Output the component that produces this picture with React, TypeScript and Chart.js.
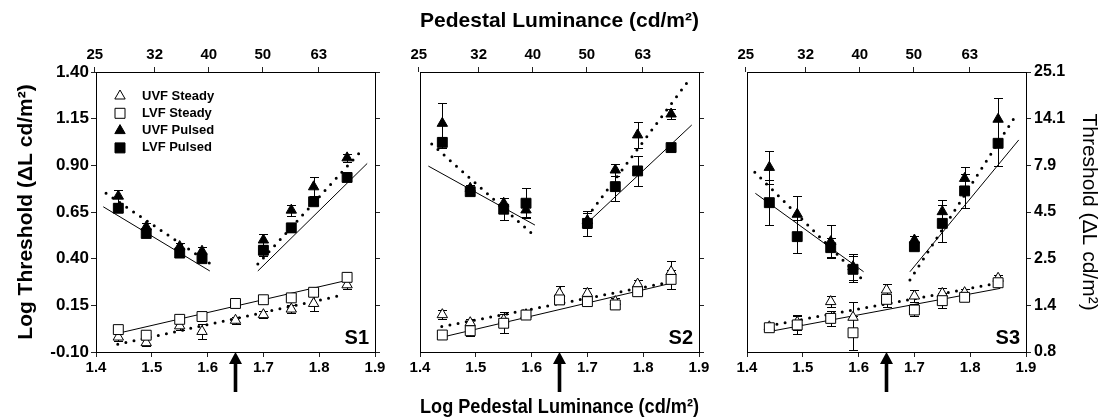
import React, { useEffect, useRef } from 'react';
import { Chart, registerables } from 'chart.js';

Chart.register(...registerables);

const FONT = "'Liberation Sans', Arial, Helvetica, sans-serif";

// ---------- axes ----------
const X_MIN = 1.4;
const X_MAX = 1.9;
const Y_MIN = -0.1;
const Y_MAX = 1.4;
const X_TICKS = [1.4, 1.5, 1.6, 1.7, 1.8, 1.9];
const TOP_TICK_LABELS = [25, 32, 40, 50, 63];
const Y_TICKS = [-0.1, 0.15, 0.4, 0.65, 0.9, 1.15, 1.4];
const ARROW_X = 1.65;

const TOP_TITLE = 'Pedestal Luminance (cd/m²)';
const BOTTOM_TITLE = 'Log Pedestal Luminance (cd/m²)';
const LEFT_TITLE = 'Log Threshold (ΔL cd/m²)';
const RIGHT_TITLE = 'Threshold (ΔL cd/m²)';

const SERIES_LABELS = ['UVF Steady', 'LVF Steady', 'UVF Pulsed', 'LVF Pulsed'];
const SUBJECTS = ['S1', 'S2', 'S3'];

const X_STEADY = [1.44, 1.49, 1.55, 1.59, 1.65, 1.7, 1.75, 1.79, 1.85];
const X_PULSED = [1.44, 1.49, 1.55, 1.59, 1.7, 1.75, 1.79, 1.85];

// ---------- S1 ----------
const S1_UVF_STEADY = [-0.02, -0.05, 0.04, 0.01, 0.07, 0.1, 0.13, 0.16, 0.26];
const S1_UVF_STEADY_ERR = [0.02, 0.02, 0.02, 0.04, 0.02, 0.02, 0.02, 0.04, 0.02];
const S1_LVF_STEADY = [0.02, -0.01, 0.075, 0.09, 0.16, 0.18, 0.19, 0.22, 0.3];
const S1_LVF_STEADY_ERR = [0.01, 0.01, 0.01, 0.01, 0.01, 0.01, 0.01, 0.01, 0.01];
const S1_UVF_PULSED = [0.735, 0.57, 0.465, 0.44, 0.5, 0.66, 0.785, 0.94];
const S1_UVF_PULSED_ERR = [0.035, 0.02, 0.02, 0.02, 0.03, 0.03, 0.05, 0.02];
const S1_LVF_PULSED = [0.67, 0.535, 0.43, 0.4, 0.445, 0.565, 0.705, 0.835];
const S1_LVF_PULSED_ERR = [0.02, 0.02, 0.02, 0.02, 0.03, 0.02, 0.02, 0.02];
const S1_FIT_UVF_STEADY = [[1.439, -0.059], [1.842, 0.205]];
const S1_FIT_LVF_STEADY = [[1.439, 0.0], [1.85, 0.284]];
const S1_FIT_UVF_PULSED_LOW = [[1.418, 0.75], [1.606, 0.371]];
const S1_FIT_LVF_PULSED_LOW = [[1.413, 0.678], [1.604, 0.334]];
const S1_FIT_UVF_PULSED_HIGH = [[1.69, 0.371], [1.878, 0.986]];
const S1_FIT_LVF_PULSED_HIGH = [[1.69, 0.334], [1.886, 0.91]];

// ---------- S2 ----------
const S2_UVF_STEADY = [0.1, 0.057, 0.072, 0.1, 0.214, 0.214, 0.17, 0.264, 0.33];
const S2_UVF_STEADY_ERR = [0.025, 0.02, 0.04, 0.02, 0.04, 0.03, 0.02, 0.02, 0.06];
const S2_LVF_STEADY = [-0.009, 0.014, 0.054, 0.098, 0.179, 0.17, 0.152, 0.223, 0.289];
const S2_LVF_STEADY_ERR = [0.015, 0.03, 0.05, 0.015, 0.02, 0.02, 0.02, 0.015, 0.05];
const S2_UVF_PULSED = [1.125, 0.777, 0.697, 0.661, 0.604, 0.875, 1.063, 1.175];
const S2_UVF_PULSED_ERR = [0.11, 0.02, 0.03, 0.04, 0.04, 0.03, 0.07, 0.025];
const S2_LVF_PULSED = [1.023, 0.759, 0.665, 0.697, 0.589, 0.786, 0.87, 0.995];
const S2_LVF_PULSED_ERR = [0.03, 0.02, 0.06, 0.08, 0.066, 0.076, 0.08, 0.02];
const S2_FIT_UVF_STEADY = [[1.439, 0.036], [1.842, 0.271]];
const S2_FIT_LVF_STEADY = [[1.439, -0.021], [1.854, 0.271]];
const S2_FIT_UVF_PULSED_LOW = [[1.421, 1.014], [1.606, 0.52]];
const S2_FIT_LVF_PULSED_LOW = [[1.415, 0.896], [1.606, 0.58]];
const S2_FIT_UVF_PULSED_HIGH = [[1.7, 0.625], [1.882, 1.357]];
const S2_FIT_LVF_PULSED_HIGH = [[1.703, 0.6], [1.887, 1.116]];

// ---------- S3 ----------
const S3_UVF_STEADY = [0.035, 0.06, 0.17, 0.086, 0.232, 0.2, 0.214, 0.218, 0.295];
const S3_UVF_STEADY_ERR = [0.015, 0.04, 0.03, 0.08, 0.03, 0.03, 0.03, 0.02, 0.02];
const S3_LVF_STEADY = [0.03, 0.045, 0.08, 0.003, 0.182, 0.125, 0.175, 0.193, 0.271];
const S3_LVF_STEADY_ERR = [0.015, 0.05, 0.04, 0.09, 0.04, 0.03, 0.04, 0.02, 0.02];
const S3_UVF_PULSED = [0.889, 0.638, 0.491, 0.357, 0.5, 0.652, 0.83, 1.147];
const S3_UVF_PULSED_ERR = [0.09, 0.1, 0.09, 0.07, 0.02, 0.06, 0.06, 0.115];
const S3_LVF_PULSED = [0.7, 0.518, 0.459, 0.343, 0.464, 0.589, 0.763, 1.018];
const S3_LVF_PULSED_ERR = [0.12, 0.09, 0.05, 0.07, 0.02, 0.1, 0.09, 0.12];
const S3_FIT_UVF_STEADY = [[1.439, 0.041], [1.854, 0.271]];
const S3_FIT_LVF_STEADY = [[1.439, 0.009], [1.854, 0.241]];
const S3_FIT_UVF_PULSED_LOW = [[1.414, 0.863], [1.609, 0.282]];
const S3_FIT_LVF_PULSED_LOW = [[1.415, 0.75], [1.609, 0.33]];
const S3_FIT_UVF_PULSED_HIGH = [[1.692, 0.286], [1.881, 1.164]];
const S3_FIT_LVF_PULSED_HIGH = [[1.692, 0.33], [1.887, 1.036]];

type Series = { label: string; xs: number[]; ys: number[]; err: number[]; shape: 'triangle' | 'rect'; filled: boolean };
type Fit = { pts: number[][]; dotted: boolean };

const PANELS: { name: string; series: Series[]; fits: Fit[] }[] = [
  {
    name: SUBJECTS[0],
    series: [
      { label: SERIES_LABELS[1], xs: X_STEADY, ys: S1_LVF_STEADY, err: S1_LVF_STEADY_ERR, shape: 'rect', filled: false },
      { label: SERIES_LABELS[0], xs: X_STEADY, ys: S1_UVF_STEADY, err: S1_UVF_STEADY_ERR, shape: 'triangle', filled: false },
      { label: SERIES_LABELS[2], xs: X_PULSED, ys: S1_UVF_PULSED, err: S1_UVF_PULSED_ERR, shape: 'triangle', filled: true },
      { label: SERIES_LABELS[3], xs: X_PULSED, ys: S1_LVF_PULSED, err: S1_LVF_PULSED_ERR, shape: 'rect', filled: true },
    ],
    fits: [
      { pts: S1_FIT_UVF_STEADY, dotted: true },
      { pts: S1_FIT_LVF_STEADY, dotted: false },
      { pts: S1_FIT_UVF_PULSED_LOW, dotted: true },
      { pts: S1_FIT_LVF_PULSED_LOW, dotted: false },
      { pts: S1_FIT_UVF_PULSED_HIGH, dotted: true },
      { pts: S1_FIT_LVF_PULSED_HIGH, dotted: false },
    ],
  },
  {
    name: SUBJECTS[1],
    series: [
      { label: SERIES_LABELS[1], xs: X_STEADY, ys: S2_LVF_STEADY, err: S2_LVF_STEADY_ERR, shape: 'rect', filled: false },
      { label: SERIES_LABELS[0], xs: X_STEADY, ys: S2_UVF_STEADY, err: S2_UVF_STEADY_ERR, shape: 'triangle', filled: false },
      { label: SERIES_LABELS[2], xs: X_PULSED, ys: S2_UVF_PULSED, err: S2_UVF_PULSED_ERR, shape: 'triangle', filled: true },
      { label: SERIES_LABELS[3], xs: X_PULSED, ys: S2_LVF_PULSED, err: S2_LVF_PULSED_ERR, shape: 'rect', filled: true },
    ],
    fits: [
      { pts: S2_FIT_UVF_STEADY, dotted: true },
      { pts: S2_FIT_LVF_STEADY, dotted: false },
      { pts: S2_FIT_UVF_PULSED_LOW, dotted: true },
      { pts: S2_FIT_LVF_PULSED_LOW, dotted: false },
      { pts: S2_FIT_UVF_PULSED_HIGH, dotted: true },
      { pts: S2_FIT_LVF_PULSED_HIGH, dotted: false },
    ],
  },
  {
    name: SUBJECTS[2],
    series: [
      { label: SERIES_LABELS[1], xs: X_STEADY, ys: S3_LVF_STEADY, err: S3_LVF_STEADY_ERR, shape: 'rect', filled: false },
      { label: SERIES_LABELS[0], xs: X_STEADY, ys: S3_UVF_STEADY, err: S3_UVF_STEADY_ERR, shape: 'triangle', filled: false },
      { label: SERIES_LABELS[2], xs: X_PULSED, ys: S3_UVF_PULSED, err: S3_UVF_PULSED_ERR, shape: 'triangle', filled: true },
      { label: SERIES_LABELS[3], xs: X_PULSED, ys: S3_LVF_PULSED, err: S3_LVF_PULSED_ERR, shape: 'rect', filled: true },
    ],
    fits: [
      { pts: S3_FIT_UVF_STEADY, dotted: true },
      { pts: S3_FIT_LVF_STEADY, dotted: false },
      { pts: S3_FIT_UVF_PULSED_LOW, dotted: true },
      { pts: S3_FIT_LVF_PULSED_LOW, dotted: false },
      { pts: S3_FIT_UVF_PULSED_HIGH, dotted: true },
      { pts: S3_FIT_LVF_PULSED_HIGH, dotted: false },
    ],
  },
];

// ---------- layout ----------
const H = 420;
const PLOT_TOP = 72;
const PLOT_BOTTOM = 352;
const PLOT_W = 279;
const LAYOUT = [
  { canvasLeft: 0, canvasWidth: 400, plotLeft: 96 },
  { canvasLeft: 380, canvasWidth: 345, plotLeft: 420 },
  { canvasLeft: 725, canvasWidth: 379, plotLeft: 747 },
];

const font = (size: number, weight: string = 'bold') => ({ family: FONT, size, weight });

function drawMarker(ctx: CanvasRenderingContext2D, shape: string, filled: boolean, cx: number, cy: number) {
  ctx.beginPath();
  if (shape === 'triangle') {
    const r = 6;
    ctx.moveTo(cx, cy - r);
    ctx.lineTo(cx + r * 0.866, cy + r / 2);
    ctx.lineTo(cx - r * 0.866, cy + r / 2);
    ctx.closePath();
  } else {
    ctx.rect(cx - 5, cy - 5, 10, 10);
  }
  ctx.fillStyle = filled ? '#000' : '#fff';
  ctx.fill();
  ctx.strokeStyle = '#000';
  ctx.lineWidth = 1;
  ctx.stroke();
}

function buildConfig(p: number): any {
  const panel = PANELS[p];
  const lay = LAYOUT[p];
  const leftW = lay.plotLeft - lay.canvasLeft;
  const rightW = lay.canvasLeft + lay.canvasWidth - (lay.plotLeft + PLOT_W);

  const markerSets = panel.series.map((s) => ({
    label: s.label,
    data: s.xs.map((x, i) => ({ x, y: s.ys[i] })),
    showLine: false,
    pointStyle: s.shape,
    pointRadius: s.shape === 'rect' ? 7 : 6,
    pointHoverRadius: s.shape === 'rect' ? 7 : 6,
    backgroundColor: s.filled ? '#000' : '#fff',
    borderColor: '#000',
    borderWidth: 1,
  }));
  const fitSets = panel.fits.map((f) => ({
    label: '',
    data: f.pts.map(([x, y]) => ({ x, y })),
    showLine: true,
    pointRadius: 0,
    pointHoverRadius: 0,
    borderColor: '#000',
    backgroundColor: '#000',
    borderWidth: f.dotted ? 3 : 1,
    borderDash: f.dotted ? [0, 8.3] : [],
    borderCapStyle: f.dotted ? 'round' : 'butt',
    fill: false,
  }));

  const decor = {
    id: 'decor' + p,
    beforeDatasetsDraw(chart: any) {
      const { ctx, scales } = chart;
      const x = scales.x;
      const y = scales.y;
      ctx.save();
      ctx.strokeStyle = '#000';
      ctx.lineWidth = 1;
      panel.series.forEach((s) => {
        s.xs.forEach((xv, i) => {
          const e = s.err[i];
          const px = Math.round(x.getPixelForValue(xv)) + 0.5;
          const top = Math.round(y.getPixelForValue(s.ys[i] + e)) + 0.5;
          const bot = Math.round(y.getPixelForValue(s.ys[i] - e)) + 0.5;
          ctx.beginPath();
          ctx.moveTo(px, top);
          ctx.lineTo(px, bot);
          ctx.moveTo(px - 4.5, top);
          ctx.lineTo(px + 4.5, top);
          ctx.moveTo(px - 4.5, bot);
          ctx.lineTo(px + 4.5, bot);
          ctx.stroke();
        });
      });
      ctx.restore();
    },
    afterDraw(chart: any) {
      const { ctx, chartArea, scales } = chart;
      const x = scales.x;
      ctx.save();
      // arrow marking the pedestal luminance
      const ax = x.getPixelForValue(ARROW_X);
      const tip = chartArea.bottom;
      ctx.fillStyle = '#000';
      ctx.beginPath();
      ctx.moveTo(ax, tip);
      ctx.lineTo(ax + 6.5, tip + 12);
      ctx.lineTo(ax + 1.8, tip + 12);
      ctx.lineTo(ax + 1.8, 392);
      ctx.lineTo(ax - 1.8, 392);
      ctx.lineTo(ax - 1.8, tip + 12);
      ctx.lineTo(ax - 6.5, tip + 12);
      ctx.closePath();
      ctx.fill();
      // subject label
      ctx.font = `bold 20px ${FONT}`;
      ctx.textAlign = 'right';
      ctx.textBaseline = 'alphabetic';
      ctx.fillText(panel.name, chartArea.right - 6, chartArea.bottom - 8);
      // legend (first panel only)
      if (p === 0) {
        const order = [0, 1, 2, 3];
        order.forEach((li, row) => {
          const s = panel.series.find((ss) => ss.label === SERIES_LABELS[li])!;
          const cy = chartArea.top + 24 + row * 17.3;
          drawMarker(ctx, s.shape, s.filled, chartArea.left + 24, cy);
          ctx.fillStyle = '#000';
          ctx.font = `bold 13px ${FONT}`;
          ctx.textAlign = 'left';
          ctx.textBaseline = 'middle';
          ctx.fillText(s.label, chartArea.left + 46, cy);
        });
      }
      ctx.restore();
    },
  };

  const gridTicks = (show: boolean) => ({
    drawOnChartArea: false,
    drawTicks: show,
    tickLength: 5,
    color: '#222',
    lineWidth: 1,
  });
  const border = { display: true, color: '#000', width: 1 };

  return {
    type: 'scatter',
    data: { datasets: [...markerSets, ...fitSets] },
    plugins: [decor],
    options: {
      responsive: false,
      animation: false,
      events: [],
      devicePixelRatio: 1,
      layout: { padding: 0 },
      plugins: { legend: { display: false }, tooltip: { enabled: false }, title: { display: false } },
      scales: {
        x: {
          type: 'linear',
          position: 'bottom',
          min: X_MIN,
          max: X_MAX,
          afterBuildTicks: (s: any) => {
            s.ticks = X_TICKS.map((value) => ({ value }));
          },
          afterFit: (s: any) => {
            s.height = H - PLOT_BOTTOM;
          },
          ticks: {
            callback: (v: any) => Number(v).toFixed(1),
            font: font(15),
            color: '#000',
            padding: 2,
            maxRotation: 0,
            autoSkip: false,
          },
          grid: gridTicks(true),
          border,
          title: {
            display: p === 1,
            text: BOTTOM_TITLE,
            font: font(21),
            color: '#000',
            padding: { top: 0, bottom: 0 },
          },
        },
        x2: {
          type: 'linear',
          position: 'top',
          min: X_MIN,
          max: X_MAX,
          afterBuildTicks: (s: any) => {
            s.ticks = TOP_TICK_LABELS.map((v) => ({ value: Math.log10(v) }));
          },
          afterFit: (s: any) => {
            s.height = PLOT_TOP;
          },
          ticks: {
            callback: (v: any) => String(Math.round(Math.pow(10, Number(v)))),
            font: font(15),
            color: '#000',
            padding: 3,
            maxRotation: 0,
            autoSkip: false,
          },
          grid: gridTicks(true),
          border,
          title: {
            display: p === 1,
            text: TOP_TITLE,
            font: font(21),
            color: '#000',
            padding: { top: 9, bottom: 0 },
          },
        },
        y: {
          type: 'linear',
          position: 'left',
          min: Y_MIN,
          max: Y_MAX,
          afterBuildTicks: (s: any) => {
            s.ticks = Y_TICKS.map((value) => ({ value }));
          },
          afterFit: (s: any) => {
            s.width = leftW;
          },
          ticks: {
            display: p === 0,
            callback: (v: any) => Number(v).toFixed(2),
            font: font(17),
            color: '#000',
            padding: 2,
            autoSkip: false,
          },
          grid: gridTicks(p === 0),
          border,
          title: {
            display: p === 0,
            text: LEFT_TITLE,
            font: font(21),
            color: '#000',
            padding: { top: 14, bottom: 0 },
          },
        },
        y2: {
          type: 'linear',
          position: 'right',
          min: Y_MIN,
          max: Y_MAX,
          afterBuildTicks: (s: any) => {
            s.ticks = Y_TICKS.map((value) => ({ value }));
          },
          afterFit: (s: any) => {
            s.width = rightW;
          },
          ticks: {
            display: p === 2,
            callback: (v: any) => Math.pow(10, Number(v)).toFixed(1),
            font: font(16),
            color: '#000',
            padding: 3,
            autoSkip: false,
          },
          grid: gridTicks(true),
          border,
          title: {
            display: p === 2,
            text: RIGHT_TITLE,
            font: font(21, 'normal'),
            color: '#000',
            padding: { top: 3, bottom: 0 },
          },
        },
      },
    },
  };
}

function Panel({ index }: { index: number }) {
  const ref = useRef<HTMLCanvasElement>(null);
  const lay = LAYOUT[index];
  useEffect(() => {
    if (!ref.current) return;
    const chart = new Chart(ref.current, buildConfig(index));
    return () => chart.destroy();
  }, [index]);
  return (
    <div style={{ position: 'absolute', left: lay.canvasLeft, top: 0, width: lay.canvasWidth, height: H }}>
      <canvas ref={ref} width={lay.canvasWidth} height={H} style={{ display: 'block', width: lay.canvasWidth, height: H }} />
    </div>
  );
}

export default function App() {
  return (
    <div style={{ position: 'absolute', left: 0, top: 0, width: 1104, height: H, background: '#fff', overflow: 'hidden' }}>
      {PANELS.map((_, i) => (
        <Panel key={i} index={i} />
      ))}
    </div>
  );
}
